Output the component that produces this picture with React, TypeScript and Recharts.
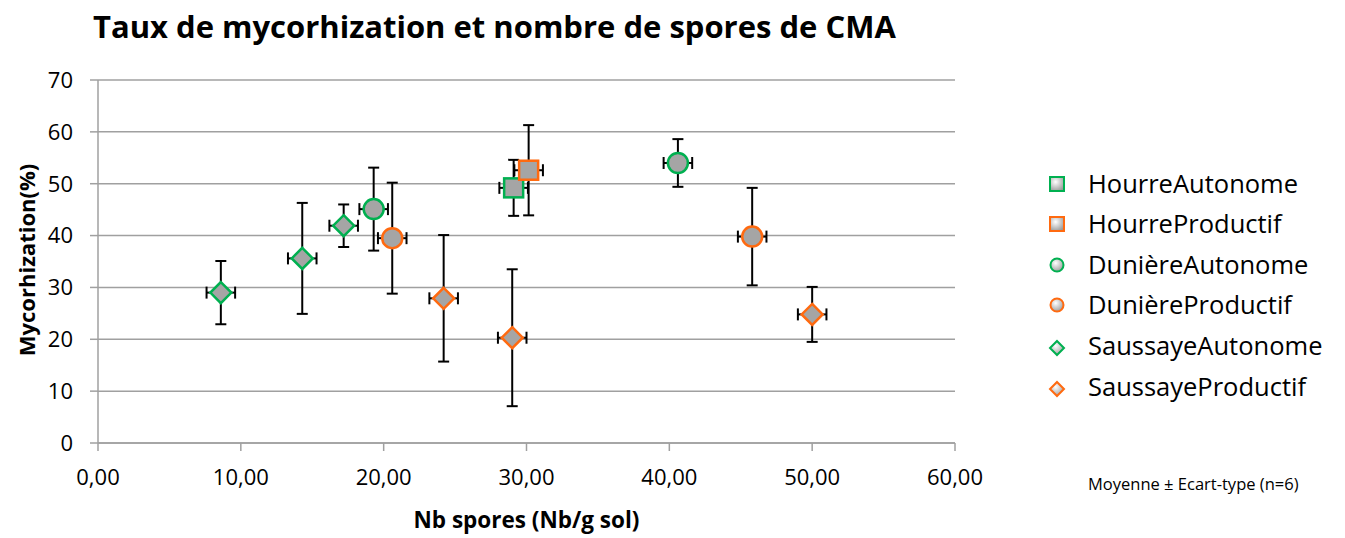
import { ScatterChart, Scatter, XAxis, YAxis, CartesianGrid, ErrorBar } from "recharts";

const seriesNames = [
  "HourreAutonome",
  "HourreProductif",
  "DunièreAutonome",
  "DunièreProductif",
  "SaussayeAutonome",
  "SaussayeProductif",
];

// mean number of spores (Nb/g sol) and its standard deviation
const sporesMean = [[29.1], [30.15], [19.3, 40.6], [20.6, 45.8], [8.6, 14.3, 17.2], [24.2, 29.0, 50.0]];
const sporesSd = [[1], [1], [1, 1], [1, 1], [1, 1, 1], [1, 1, 1]];

// mean mycorhization (%) and its standard deviation
const mycoMean = [[49.2], [52.6], [45.1, 54.0], [39.5, 39.8], [29.0, 35.6, 41.9], [27.9, 20.3, 24.8]];
const mycoSd = [[5.4], [8.7], [8.0, 4.6], [10.7, 9.4], [6.1, 10.7, 4.1], [12.2, 13.2, 5.3]];

const xTicks = [0, 10, 20, 30, 40, 50, 60];
const yTicks = [0, 10, 20, 30, 40, 50, 60, 70];

const GREEN = "#00b050";
const ORANGE = "#ff6a10";
const FILL = "#a5a5a5";
const GRID = "#a0a0a0";
const FONT = "'Open Sans', sans-serif";

const seriesStroke = [GREEN, ORANGE, GREEN, ORANGE, GREEN, ORANGE];
const seriesShape = ["square", "square", "circle", "circle", "diamond", "diamond"];
const legendRows = [175, 215, 256, 296, 337, 378];

const Marker = ({ cx, cy, kind, stroke }: any) => {
  if (cx == null || cy == null) return null;
  if (kind === "circle") {
    return <circle cx={cx} cy={cy} r={10} fill={FILL} stroke={stroke} strokeWidth={2.5} />;
  }
  if (kind === "square") {
    return <rect x={cx - 9.5} y={cy - 9.5} width={19} height={19} fill={FILL} stroke={stroke} strokeWidth={2.5} />;
  }
  return (
    <polygon
      points={`${cx},${cy - 10.5} ${cx + 10.5},${cy} ${cx},${cy + 10.5} ${cx - 10.5},${cy}`}
      fill={FILL}
      stroke={stroke}
      strokeWidth={2.5}
    />
  );
};

const LegendIcon = ({ kind, stroke, id }: any) => {
  const grad = `url(#lg-${id})`;
  let shape;
  if (kind === "circle") shape = <circle cx={9} cy={9} r={6.5} fill={grad} stroke={stroke} strokeWidth={2} />;
  else if (kind === "square") shape = <rect x={2} y={2} width={14} height={14} fill={grad} stroke={stroke} strokeWidth={2} />;
  else shape = <polygon points="9,2 16,9 9,16 2,9" fill={grad} stroke={stroke} strokeWidth={2} />;
  return (
    <svg width={18} height={18}>
      <defs>
        <radialGradient id={`lg-${id}`} cx="40%" cy="35%" r="70%">
          <stop offset="0%" stopColor="#ffffff" />
          <stop offset="100%" stopColor="#9a9a9a" />
        </radialGradient>
      </defs>
      {shape}
    </svg>
  );
};

export default function App() {
  const series = seriesNames.map((name, s) => ({
    name,
    data: sporesMean[s].map((x, i) => ({
      x,
      y: mycoMean[s][i],
      ex: sporesSd[s][i],
      ey: mycoSd[s][i],
    })),
  }));

  return (
    <div style={{ position: "relative", width: 1337, height: 530, fontFamily: FONT, color: "#000" }}>
      <div
        style={{
          position: "absolute",
          left: 85,
          top: -2,
          fontSize: 31,
          fontWeight: 700,
          lineHeight: "40px",
          whiteSpace: "nowrap",
        }}
      >
        Taux de mycorhization et nombre de spores de CMA
      </div>

      <ScatterChart width={1337} height={530} margin={{ top: 72, right: 390, bottom: 5, left: 0 }}>
        <CartesianGrid vertical={false} stroke={GRID} strokeWidth={1.5} />
        <XAxis
          type="number"
          dataKey="x"
          domain={[0, 60]}
          ticks={xTicks}
          interval={0}
          height={90}
          tickSize={8}
          tickMargin={18}
          tickFormatter={(v: number) => v.toFixed(2).replace(".", ",")}
          tick={{ fill: "#000", fontSize: 22, fontFamily: FONT }}
          axisLine={{ stroke: GRID, strokeWidth: 1.5 }}
          tickLine={{ stroke: GRID, strokeWidth: 1.5 }}
          label={{
            content: () => (
              <text
                x={518.5}
                y={511}
                textAnchor="middle"
                dominantBaseline="central"
                fontSize={22.5}
                fontWeight={700}
                fontFamily={FONT}
                fill="#000"
              >
                Nb spores (Nb/g sol)
              </text>
            ),
          }}
        />
        <YAxis
          type="number"
          dataKey="y"
          domain={[0, 70]}
          ticks={yTicks}
          interval={0}
          width={90}
          tickSize={8}
          tickMargin={17}
          tick={{ fill: "#000", fontSize: 22, fontFamily: FONT }}
          axisLine={{ stroke: GRID, strokeWidth: 1.5 }}
          tickLine={{ stroke: GRID, strokeWidth: 1.5 }}
          label={{
            content: () => (
              <text
                x={18}
                y={252}
                transform="rotate(-90 18 252)"
                textAnchor="middle"
                dominantBaseline="central"
                fontSize={22}
                fontWeight={700}
                fontFamily={FONT}
                fill="#000"
              >
                Mycorhization(%)
              </text>
            ),
          }}
        />
        {series.map((sr, s) => (
          <Scatter
            key={sr.name}
            name={sr.name}
            data={sr.data}
            isAnimationActive={false}
            shape={(p: any) => <Marker cx={p.cx} cy={p.cy} kind={seriesShape[s]} stroke={seriesStroke[s]} />}
          >
            <ErrorBar dataKey="ey" direction="y" width={5.5} stroke="#000" strokeWidth={2} isAnimationActive={false} />
            <ErrorBar dataKey="ex" direction="x" width={6} stroke="#000" strokeWidth={2} isAnimationActive={false} />
          </Scatter>
        ))}
      </ScatterChart>

      {seriesNames.map((name, s) => (
        <div
          key={name}
          style={{
            position: "absolute",
            left: 1040,
            top: legendRows[s] - 17,
            height: 34,
            display: "flex",
            alignItems: "center",
            whiteSpace: "nowrap",
          }}
        >
          <div style={{ width: 40, display: "flex", justifyContent: "flex-start", paddingLeft: 0, marginTop: seriesShape[s] === "diamond" ? 6 : 2 }}>
            <LegendIcon kind={seriesShape[s]} stroke={seriesStroke[s]} id={s} />
          </div>
          <span style={{ fontSize: 25.5, lineHeight: "34px" }}>{name}</span>
        </div>
      ))}

      <div style={{ position: "absolute", left: 1080, top: 465, fontSize: 16.5, lineHeight: "22px", whiteSpace: "nowrap" }}>
        Moyenne ± Ecart-type (n=6)
      </div>
    </div>
  );
}
